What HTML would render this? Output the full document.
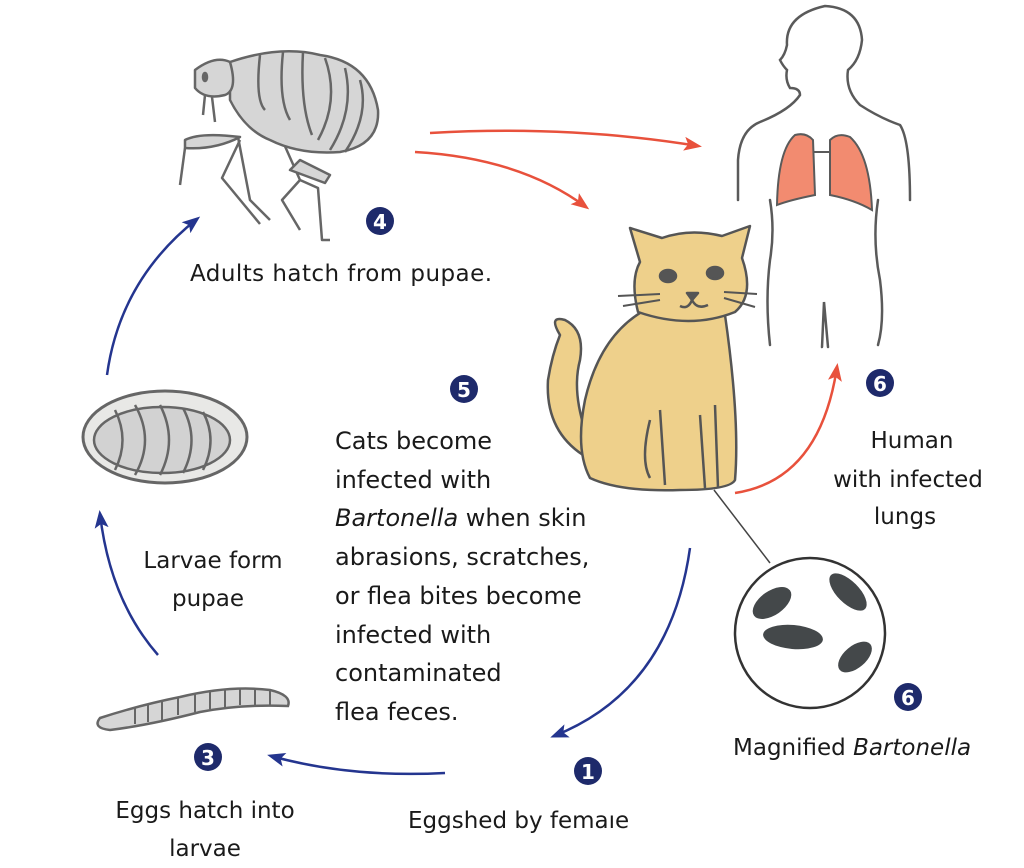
<!DOCTYPE html>
<html><head><meta charset="utf-8"><style>
body{margin:0;background:#fff;}
svg{display:block}
text{font-family:"DejaVu Sans","Liberation Sans",sans-serif;fill:#1a1a1a;}
</style></head><body>
<svg width="1024" height="868" viewBox="0 0 1024 868" xmlns="http://www.w3.org/2000/svg">
<defs>
<marker id="ar" markerWidth="18" markerHeight="14" refX="14" refY="7" orient="auto" markerUnits="userSpaceOnUse"><path d="M0,0 L18,7 L0,14 L4,7 Z" fill="#e8513c"/></marker>
<marker id="ab" markerWidth="18" markerHeight="14" refX="14" refY="7" orient="auto" markerUnits="userSpaceOnUse"><path d="M0,0 L18,7 L0,14 L4,7 Z" fill="#24358f"/></marker>
</defs>

<!-- Flea -->
<g stroke="#666" stroke-width="2.5" fill="#d6d6d6" stroke-linejoin="round">
<path d="M185,140 Q200,132 240,137 Q215,150 185,148 Z"/>
<path d="M185,148 L180,185" fill="none"/>
<path d="M240,140 L222,178 L260,224" fill="none"/>
<path d="M238,137 L250,200 L270,220" fill="none"/>
<path d="M280,135 L300,180 L318,188 L322,240 L330,240 M300,180 L282,200 L300,230" fill="none"/>
<path d="M300,160 L330,175 L325,183 L290,170 Z"/>
<path d="M230,62 Q280,45 320,55 Q370,62 378,110 Q380,145 340,152 Q300,155 270,140 Q245,130 230,100 Z"/>
<path d="M195,70 Q215,55 230,62 Q238,90 225,95 Q205,100 195,88 Z"/>
<path d="M260,55 Q255,100 265,110 M283,52 Q278,100 290,120 M303,52 Q300,105 312,135 M325,58 Q340,100 318,140 M345,68 Q355,110 330,150 M360,80 Q370,115 345,152" fill="none"/>
<path d="M205,95 L203,115 M212,97 L215,122" fill="none"/>
<ellipse cx="205" cy="77" rx="2" ry="4" fill="#666"/>
</g>
<circle cx="380" cy="221" r="14" fill="#1e2a6b"/><text x="380" y="229" font-size="20" font-weight="bold" text-anchor="middle" style="fill:#fff">4</text>
<text x="190" y="281" font-size="23" textLength="302">Adults hatch from pupae.</text>

<!-- Pupa -->
<ellipse cx="165" cy="437" rx="82" ry="46" fill="#e8e8e6" stroke="#666" stroke-width="3"/>
<ellipse cx="162" cy="440" rx="68" ry="33" fill="#d2d2d2" stroke="#666" stroke-width="2.5"/>
<path d="M115,410 Q130,440 115,470 M135,405 Q155,440 135,475 M160,405 Q178,440 160,475 M183,408 Q200,440 183,473 M203,412 Q218,440 203,470" stroke="#666" stroke-width="2.5" fill="none"/>

<!-- Larva -->
<path d="M100,718 Q140,705 180,697 Q230,685 270,690 Q292,695 288,706 Q240,704 200,712 Q150,725 110,730 Q92,728 100,718 Z" fill="#d6d6d6" stroke="#666" stroke-width="2.5"/>
<path d="M135,707 v17 M148,704 v18 M162,700 v20 M178,697 v18 M195,693 v19 M210,690 v19 M225,689 v18 M240,688 v17 M255,689 v16 M270,690 v15" stroke="#666" stroke-width="2"/>

<!-- Labels left -->
<text x="213" y="568" font-size="23" text-anchor="middle">Larvae form</text>
<text x="208" y="606" font-size="23" text-anchor="middle">pupae</text>
<circle cx="208" cy="757" r="14" fill="#1e2a6b"/><text x="208" y="765" font-size="20" font-weight="bold" text-anchor="middle" style="fill:#fff">3</text>
<text x="205" y="818" font-size="23" text-anchor="middle">Eggs hatch into</text>
<text x="205" y="856" font-size="23" text-anchor="middle">larvae</text>

<!-- center text -->
<circle cx="464" cy="389" r="14" fill="#1e2a6b"/><text x="464" y="397" font-size="20" font-weight="bold" text-anchor="middle" style="fill:#fff">5</text>
<g font-size="24">
<text x="335" y="449">Cats become</text>
<text x="335" y="488">infected with</text>
<text x="335" y="526"><tspan font-style="italic">Bartonella</tspan> when skin</text>
<text x="335" y="565">abrasions, scratches,</text>
<text x="335" y="604">or flea bites become</text>
<text x="335" y="643">infected with</text>
<text x="335" y="681">contaminated</text>
<text x="335" y="720">flea feces.</text>
</g>

<!-- Human -->
<g stroke="#5a5a5a" stroke-width="2.5" fill="none" stroke-linecap="round">
<path d="M738,200 L738,160 Q740,130 760,122 Q790,110 800,95 Q800,88 790,88 Q785,80 787,70 Q783,66 780,60 Q785,55 787,45 Q785,15 825,6 Q860,8 862,40 Q860,60 848,70 Q845,90 860,105 Q880,118 900,125 Q910,140 910,200"/>
<path d="M770,200 Q775,230 770,260 Q765,300 770,345"/>
<path d="M878,200 Q872,240 880,280 Q885,320 878,345"/>
<path d="M822,347 L824,302 L828,347"/>
</g>
<g fill="#f28b70" stroke="#5a5a5a" stroke-width="2">
<path d="M813,140 Q806,132 795,135 Q778,150 777,205 Q790,200 815,195 Z"/>
<path d="M830,140 Q838,132 850,137 Q870,155 872,210 Q855,200 830,195 Z"/>
<path d="M813,152 L830,152" fill="none"/>
</g>

<!-- Cat -->
<g stroke="#555" stroke-width="2.5" fill="#eed08b" stroke-linejoin="round">
<path d="M583,455 Q545,430 548,380 Q552,355 560,335 Q548,315 565,320 Q585,330 580,360 Q572,390 585,430 Z"/>
<path d="M645,310 Q600,335 585,400 Q575,450 590,478 Q620,492 680,490 Q730,490 735,480 Q740,420 725,315 Z"/>
<path d="M638,312 Q630,280 640,262 L630,228 L662,238 Q690,228 722,236 L750,226 L742,258 Q755,295 735,312 Q690,330 638,312 Z"/>
<path d="M650,420 Q640,460 650,478 M660,410 L665,485 M700,415 L705,488 M715,405 L718,488" fill="none"/>
<ellipse cx="668" cy="276" rx="8" ry="6" fill="#555"/>
<ellipse cx="715" cy="273" rx="8" ry="6" fill="#555"/>
<path d="M687,293 L698,293 L692,300 Z" fill="#555"/>
<path d="M692,300 Q688,310 680,306 M692,300 Q697,310 708,305" fill="none"/>
<path d="M618,296 L660,294 M623,306 L660,300 M724,292 L757,294 M724,298 L755,307" fill="none" stroke-width="2"/>
</g>
<line x1="714" y1="490" x2="770" y2="563" stroke="#444" stroke-width="1.5"/>

<!-- Magnified -->
<circle cx="810" cy="633" r="75" fill="#fff" stroke="#333" stroke-width="2.5"/>
<g fill="#44484a">
<ellipse cx="772" cy="603" rx="22" ry="12" transform="rotate(-35 772 603)"/>
<ellipse cx="848" cy="592" rx="24" ry="11" transform="rotate(45 848 592)"/>
<ellipse cx="793" cy="637" rx="30" ry="12" transform="rotate(5 793 637)"/>
<ellipse cx="855" cy="657" rx="20" ry="11" transform="rotate(-40 855 657)"/>
</g>
<circle cx="908" cy="697" r="14" fill="#1e2a6b"/><text x="908" y="705" font-size="20" font-weight="bold" text-anchor="middle" style="fill:#fff">6</text>
<text x="733" y="755" font-size="23">Magnified <tspan font-style="italic">Bartonella</tspan></text>

<circle cx="880" cy="383" r="14" fill="#1e2a6b"/><text x="880" y="391" font-size="20" font-weight="bold" text-anchor="middle" style="fill:#fff">6</text>
<text x="912" y="448" font-size="23" text-anchor="middle">Human</text>
<text x="908" y="487" font-size="23" text-anchor="middle">with infected</text>
<text x="905" y="524" font-size="23" text-anchor="middle">lungs</text>

<circle cx="588" cy="771" r="14" fill="#1e2a6b"/><text x="588" y="779" font-size="20" font-weight="bold" text-anchor="middle" style="fill:#fff">1</text>
<text x="408" y="828" font-size="23">Eggshed by femaıe</text>

<!-- Arrows -->
<g fill="none" stroke-width="2.5">
<path d="M430,133 Q570,125 698,146" stroke="#e8513c" marker-end="url(#ar)"/>
<path d="M415,152 Q520,158 586,207" stroke="#e8513c" marker-end="url(#ar)"/>
<path d="M735,493 Q820,480 837,367" stroke="#e8513c" marker-end="url(#ar)"/>
<path d="M690,548 Q670,690 554,736" stroke="#24358f" marker-end="url(#ab)"/>
<path d="M445,773 Q350,778 271,756" stroke="#24358f" marker-end="url(#ab)"/>
<path d="M158,655 Q110,600 100,514" stroke="#24358f" marker-end="url(#ab)"/>
<path d="M107,375 Q120,280 197,219" stroke="#24358f" marker-end="url(#ab)"/>
</g>
</svg>
</body></html>
